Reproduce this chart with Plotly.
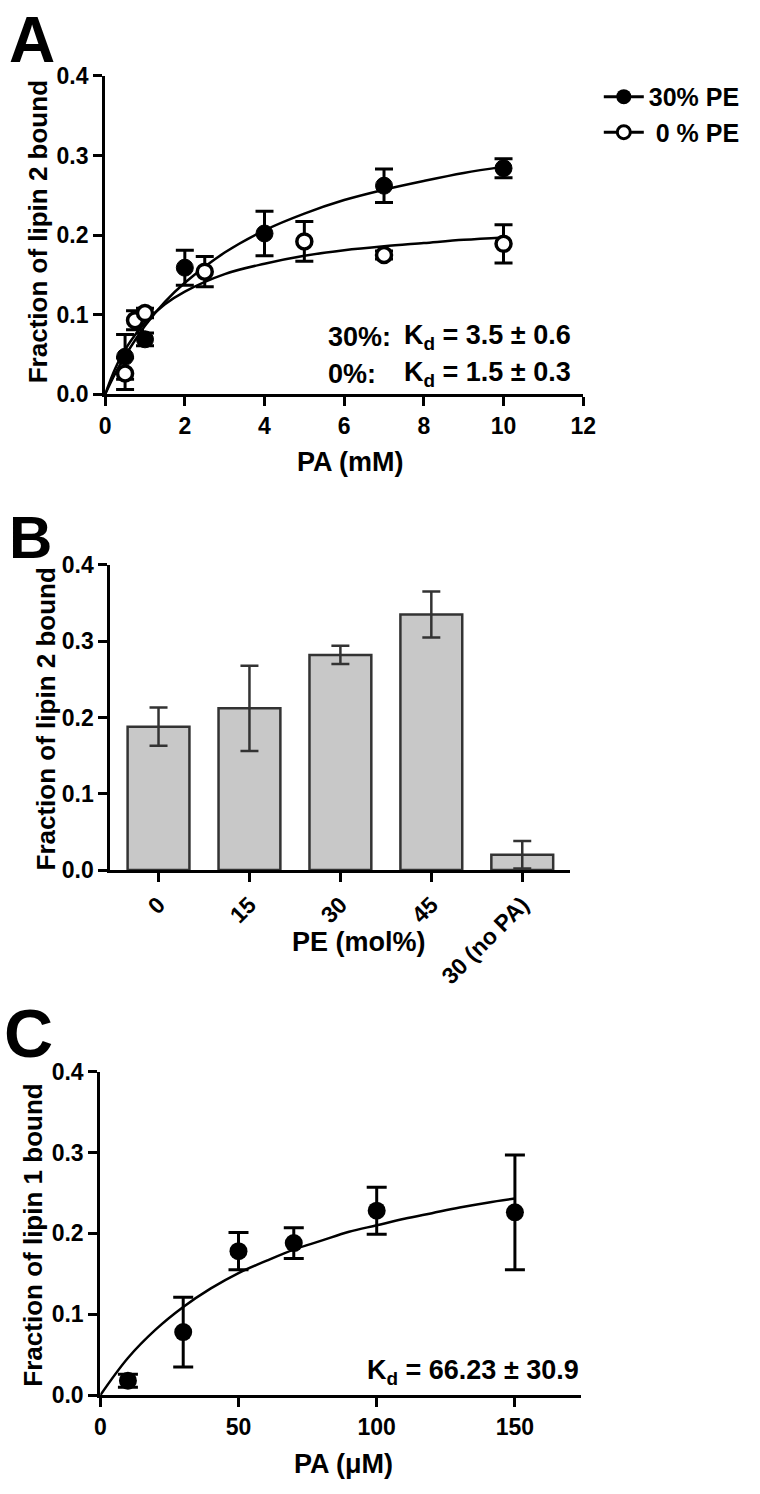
import plotly.graph_objects as go

W, H = 760, 1494

# ---------------- Panel A data ----------------
a_x_30 = [0.5, 1, 2, 4, 7, 10]
a_y_30 = [0.047, 0.069, 0.159, 0.202, 0.262, 0.284]
a_e_30 = [0.028, 0.008, 0.022, 0.028, 0.021, 0.012]

a_x_0 = [0.5, 0.75, 1, 2.5, 5, 7, 10]
a_y_0 = [0.026, 0.093, 0.102, 0.154, 0.192, 0.175, 0.189]
a_e_0 = [0.020, 0.012, 0.006, 0.019, 0.025, 0.005, 0.024]

a_fit_x = [0, 0.25, 0.5, 1, 1.5, 2, 3, 4, 5, 6, 7, 8, 9, 10]
a_fit_30 = [0, 0.026, 0.048, 0.086, 0.116, 0.140, 0.178, 0.206, 0.227, 0.244, 0.257, 0.268, 0.278, 0.286]
a_fit_0 = [0, 0.032, 0.056, 0.090, 0.113, 0.129, 0.151, 0.164, 0.174, 0.181, 0.186, 0.190, 0.194, 0.197]

a_xticks = [0, 2, 4, 6, 8, 10, 12]
y_ticks = [0.0, 0.1, 0.2, 0.3, 0.4]

# ---------------- Panel B data ----------------
b_cats = ["0", "15", "30", "45", "30 (no PA)"]
b_vals = [0.188, 0.212, 0.282, 0.335, 0.020]
b_errs = [0.025, 0.056, 0.012, 0.030, 0.018]

# ---------------- Panel C data ----------------
c_x = [10, 30, 50, 70, 100, 150]
c_y = [0.018, 0.078, 0.178, 0.188, 0.228, 0.226]
c_e = [0.008, 0.043, 0.023, 0.019, 0.029, 0.071]
c_fit_x = [0, 10, 20, 30, 40, 50, 60, 70, 80, 90, 100, 110, 120, 130, 140, 150]
c_fit_y = [0, 0.046, 0.081, 0.109, 0.132, 0.151, 0.166, 0.180, 0.191, 0.202, 0.210,
           0.218, 0.225, 0.232, 0.238, 0.243]
c_xticks = [0, 50, 100, 150, 175]
c_xticktext = ["0", "50", "100", "150", ""]

FONT = "Liberation Sans, Arial, sans-serif"


def px(x):
    return x / W


def py(y):
    return 1 - y / H


fig = go.Figure()

# ---- Panel A traces ----
for ys in (a_fit_30, a_fit_0):
    fig.add_trace(go.Scatter(x=a_fit_x, y=ys, mode="lines", line=dict(color="black", width=2.5, shape="spline"),
                             showlegend=False, xaxis="x", yaxis="y", hoverinfo="skip", cliponaxis=False))
fig.add_trace(go.Scatter(x=a_x_30, y=a_y_30, mode="markers",
                         marker=dict(symbol="circle", size=17, color="black", line=dict(color="black", width=1)),
                         error_y=dict(type="data", array=a_e_30, color="black", thickness=3, width=9),
                         showlegend=False, xaxis="x", yaxis="y", cliponaxis=False))
fig.add_trace(go.Scatter(x=a_x_0, y=a_y_0, mode="markers",
                         marker=dict(symbol="circle", size=15, color="white", line=dict(color="black", width=3.5)),
                         error_y=dict(type="data", array=a_e_0, color="black", thickness=3, width=9),
                         showlegend=False, xaxis="x", yaxis="y", cliponaxis=False))
# legend entries
fig.add_trace(go.Scatter(x=[None], y=[None], mode="lines+markers", name="30% PE",
                         marker=dict(symbol="circle", size=15, color="black"),
                         line=dict(color="black", width=3), xaxis="x", yaxis="y"))
fig.add_trace(go.Scatter(x=[None], y=[None], mode="lines+markers", name=" 0 % PE",
                         marker=dict(symbol="circle", size=13, color="white", line=dict(color="black", width=3)),
                         line=dict(color="black", width=3), xaxis="x", yaxis="y"))

# ---- Panel B ----
fig.add_trace(go.Bar(x=b_cats, y=b_vals, width=0.68,
                     marker=dict(color="#c8c8c8", line=dict(color="#333333", width=2.5)),
                     error_y=dict(type="data", array=b_errs, color="#333333", thickness=2.5, width=9),
                     showlegend=False, xaxis="x2", yaxis="y2", cliponaxis=False))

# ---- Panel C ----
fig.add_trace(go.Scatter(x=c_fit_x, y=c_fit_y, mode="lines", line=dict(color="black", width=2.5, shape="spline"),
                         showlegend=False, xaxis="x3", yaxis="y3", hoverinfo="skip", cliponaxis=False))
fig.add_trace(go.Scatter(x=c_x, y=c_y, mode="markers",
                         marker=dict(symbol="circle", size=18, color="black"),
                         error_y=dict(type="data", array=c_e, color="black", thickness=3, width=10),
                         showlegend=False, xaxis="x3", yaxis="y3", cliponaxis=False))

tickfont = dict(family=FONT, size=23, color="black", weight="bold")
axis_common = dict(showline=True, linewidth=3, linecolor="black", ticks="outside", ticklen=9,
                   tickwidth=3, tickcolor="black", showgrid=False, zeroline=False, tickfont=tickfont)

fig.update_layout(
    width=W, height=H, margin=dict(l=0, r=0, t=0, b=0),
    paper_bgcolor="white", plot_bgcolor="white",
    font=dict(family=FONT, color="black"),
    showlegend=True,
    legend=dict(x=px(608), y=py(62), xanchor="left", yanchor="top", bgcolor="rgba(0,0,0,0)",
                font=dict(family=FONT, size=25, color="black", weight="bold"), itemwidth=40,
                tracegroupgap=0),
    # Panel A
    xaxis=dict(domain=[px(101.7), px(592)], range=[0, 12], tickvals=a_xticks, anchor="y", **axis_common),
    yaxis=dict(domain=[py(388), py(64)], range=[0, 0.4], tickvals=y_ticks, tickformat=".1f", anchor="x",
               **axis_common),
    # Panel B
    xaxis2=dict(domain=[px(107), px(578)], range=[-0.53, 4.52], type="category", tickangle=-45, anchor="y2",
                **axis_common),
    yaxis2=dict(domain=[py(872.3), py(561.7)], range=[0, 0.4], tickvals=y_ticks, tickformat=".1f",
                anchor="x2", **axis_common),
    # Panel C
    xaxis3=dict(domain=[px(96.7), px(590)], range=[0, 174], tickvals=c_xticks, ticktext=c_xticktext,
                anchor="y3", **axis_common),
    yaxis3=dict(domain=[py(1406.7), py(1077.3)], range=[0, 0.4], tickvals=y_ticks, tickformat=".1f",
                anchor="x3", **axis_common),
    bargap=0.3,
)

ann = []


def add_text(text, x, y, size=25, angle=0, xanchor="center", yanchor="middle"):
    ann.append(dict(text=text, x=px(x), y=py(y), xref="paper", yref="paper", showarrow=False,
                    textangle=angle, xanchor=xanchor, yanchor=yanchor,
                    font=dict(family=FONT, size=size, color="black", weight="bold")))


# Panel letters
add_text("A", 27, 27, size=64)
add_text("B", 25, 534, size=60)
add_text("C", 23, 1038, size=68)

# Axis titles
add_text("Fraction of lipin 2 bound", 33, 223, size=26, angle=-90)
add_text("PA (mM)", 353, 457, size=27)
add_text("Fraction of lipin 2 bound", 41, 718, size=26, angle=-90)
add_text("PE (mol%)", 362, 945, size=27)
add_text("Fraction of lipin 1 bound", 28, 1244, size=26, angle=-90)
add_text("PA (\u03bcM)", 346, 1477, size=27)

# Kd texts
add_text("30%:", 328, 330, size=27, xanchor="left")
add_text("0%:", 328, 367, size=27, xanchor="left")
add_text("K<sub>d</sub> = 3.5 \u00b1 0.6", 406, 330, size=27, xanchor="left")
add_text("K<sub>d</sub> = 1.5 \u00b1 0.3", 406, 367, size=27, xanchor="left")
add_text("K<sub>d</sub> = 66.23 \u00b1 30.9", 590, 1383, size=27, xanchor="right")

fig.update_layout(annotations=ann)

fig.write_html("out.html", config={"displayModeBar": False},
               post_script="document.body.style.margin='0px';")
